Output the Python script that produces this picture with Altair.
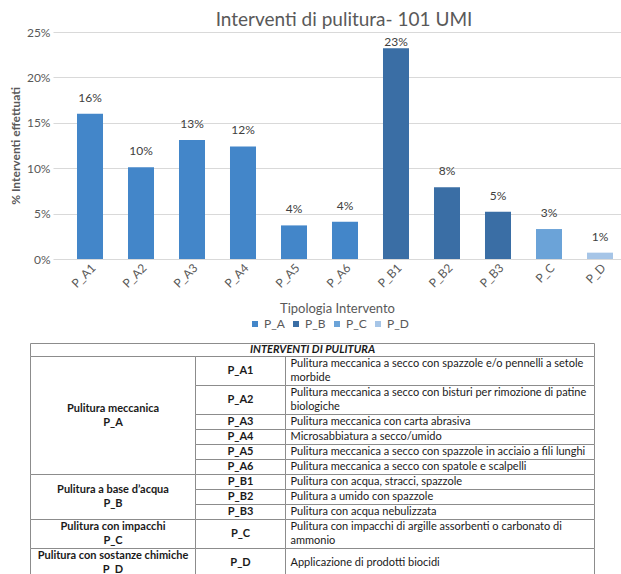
import altair as alt
import pandas as pd

# ---------------------------------------------------------------- bar data
codes = ["P_A1", "P_A2", "P_A3", "P_A4", "P_A5", "P_A6",
         "P_B1", "P_B2", "P_B3", "P_C", "P_D"]
code_groups = ["P_A", "P_A", "P_A", "P_A", "P_A", "P_A",
               "P_B", "P_B", "P_B", "P_C", "P_D"]
shares = [0.160, 0.101, 0.131, 0.124, 0.037, 0.041,
          0.232, 0.079, 0.052, 0.033, 0.007]
y_ticks = [0, 0.05, 0.10, 0.15, 0.20, 0.25]

group_keys = ["P_A", "P_B", "P_C", "P_D"]
group_names = ["Pulitura meccanica", "Pulitura a base d’acqua",
               "Pulitura con impacchi", "Pulitura con sostanze chimiche"]
group_colors = ["#4386c9", "#3a6ea5", "#6ba3d8", "#a6c5e7"]

# -------------------------------------------------------------- table data
table_title = "INTERVENTI DI PULITURA"
descriptions = [
    "Pulitura meccanica a secco con spazzole e/o pennelli a setole\nmorbide",
    "Pulitura meccanica a secco con bisturi per rimozione di patine\nbiologiche",
    "Pulitura meccanica con carta abrasiva",
    "Microsabbiatura a secco/umido",
    "Pulitura meccanica a secco con spazzole in acciaio a fili lunghi",
    "Pulitura meccanica a secco con spatole e scalpelli",
    "Pulitura con acqua, stracci, spazzole",
    "Pulitura a umido con spazzole",
    "Pulitura con acqua nebulizzata",
    "Pulitura con impacchi di argille assorbenti o carbonato di\nammonio",
    "Applicazione di prodotti biocidi",
]

# ------------------------------------------------------------------ layout
GRAY = "#595959"
FONT = "Lato"
PLOT_W, PLOT_H = 568, 227
PAD = {"left": 53, "top": 32, "right": 0, "bottom": 315}
Y_MAX = 0.25
LABEL_CAP = 0.2217                  # keeps value labels inside the plot area

COL_EDGES = [0, 165, 255, 564]      # table column borders
HEADER_H = 13
LINE_H = 14
TEXT_PAD = 5
TABLE_FONT = 11
TABLE_X0, TABLE_Y0 = 30 - PAD["left"] + 0.5, 343 - PAD["top"] + 0.5
TABLE_SPAN = 240


def n_lines(s):
    return s.count("\n") + 1


def block_y(center, s):
    # Vega puts the first line at y; shift so the whole block is centred
    return center - (n_lines(s) - 1) * LINE_H / 2


# rows grow with the number of text lines they hold
group_labels = {k: f"{n}\n{k}" for k, n in zip(group_keys, group_names)}
group_sizes = {k: code_groups.count(k) for k in group_keys}
row_top, row_bot = [], []
y = HEADER_H
for code, grp, desc in zip(codes, code_groups, descriptions):
    lines = n_lines(desc)
    if group_sizes[grp] == 1:
        lines = max(lines, n_lines(group_labels[grp]))
    h = lines * LINE_H + 1
    row_top.append(y)
    row_bot.append(y + h)
    y += h

cells, header_txt, group_txt, code_txt, desc_txt = [], [], [], [], []
cells.append(dict(x1=COL_EDGES[0], x2=COL_EDGES[3], y1=0, y2=HEADER_H))
header_txt.append(dict(tx=(COL_EDGES[0] + COL_EDGES[3]) / 2, ty=HEADER_H / 2,
                       label=table_title))
for k in group_keys:
    idx = [i for i, g in enumerate(code_groups) if g == k]
    top, bot = row_top[idx[0]], row_bot[idx[-1]]
    cells.append(dict(x1=COL_EDGES[0], x2=COL_EDGES[1], y1=top, y2=bot))
    group_txt.append(dict(tx=(COL_EDGES[0] + COL_EDGES[1]) / 2,
                          ty=block_y((top + bot) / 2, group_labels[k]),
                          label=group_labels[k]))
for i, code in enumerate(codes):
    top, bot = row_top[i], row_bot[i]
    mid = (top + bot) / 2
    cells.append(dict(x1=COL_EDGES[1], x2=COL_EDGES[2], y1=top, y2=bot))
    cells.append(dict(x1=COL_EDGES[2], x2=COL_EDGES[3], y1=top, y2=bot))
    code_txt.append(dict(tx=(COL_EDGES[1] + COL_EDGES[2]) / 2, ty=mid,
                         label=code))
    desc_txt.append(dict(tx=COL_EDGES[2] + TEXT_PAD,
                         ty=block_y(mid, descriptions[i]),
                         label=descriptions[i]))

tx_scale = alt.Scale(domain=[0, COL_EDGES[3]],
                     range=[TABLE_X0, TABLE_X0 + COL_EDGES[3]],
                     nice=False, zero=False)
ty_scale = alt.Scale(domain=[0, TABLE_SPAN],
                     range=[TABLE_Y0, TABLE_Y0 + TABLE_SPAN],
                     nice=False, zero=False)

table_cells = alt.Chart(pd.DataFrame(cells)).mark_rect(
    fill="white", stroke="#8c8c8c", strokeWidth=1
).encode(
    x=alt.X("x1:Q", scale=tx_scale, axis=None), x2="x2:Q",
    y=alt.Y("y1:Q", scale=ty_scale, axis=None), y2="y2:Q",
)


def table_text(rows, **style):
    return alt.Chart(pd.DataFrame(rows)).mark_text(
        font=FONT, fontSize=TABLE_FONT, color="#1a1a1a", baseline="middle",
        lineBreak="\n", lineHeight=LINE_H, **style
    ).encode(
        x=alt.X("tx:Q", scale=tx_scale, axis=None),
        y=alt.Y("ty:Q", scale=ty_scale, axis=None),
        text="label:N",
    )


table = alt.layer(
    table_cells,
    table_text(header_txt, align="center", fontWeight="bold", fontStyle="italic"),
    table_text(group_txt, align="center", fontWeight="bold"),
    table_text(code_txt, align="center", fontWeight="bold"),
    table_text(desc_txt, align="left"),
)

# --------------------------------------------------------------- bar chart
bars_df = pd.DataFrame({"code": codes, "group": code_groups, "share": shares})

x_enc = alt.X(
    "code:N", sort=codes, title="Tipologia Intervento",
    scale=alt.Scale(paddingInner=0.49, paddingOuter=0.3137, align=0.75),
    axis=alt.Axis(labelAngle=-45, labelFontSize=12, labelColor=GRAY,
                  labelPadding=3, ticks=False, domain=False,
                  titleFontSize=13, titleColor=GRAY,
                  titleFontWeight="normal", titleY=49,
                  titleBaseline="middle"),
)
y_scale = alt.Scale(domain=[0, Y_MAX], nice=False)

bars = alt.Chart(bars_df).mark_bar().encode(
    x=x_enc,
    y=alt.Y(
        "share:Q", title="% Interventi effettuati", scale=y_scale,
        axis=alt.Axis(values=y_ticks, format=".0%", labelFontSize=12,
                      labelColor=GRAY, labelPadding=3, ticks=False,
                      domain=False, gridColor="#d9d9d9",
                      titleFontSize=12, titleColor=GRAY,
                      titleFontWeight="bold", titleX=-38,
                      titleBaseline="middle"),
    ),
    color=alt.Color(
        "group:N",
        scale=alt.Scale(domain=group_keys, range=group_colors),
        legend=alt.Legend(title=None, orient="none", legendX=196, legendY=286,
                          direction="horizontal", symbolType="square",
                          symbolSize=36, symbolStrokeWidth=0,
                          labelFontSize=12, labelColor=GRAY, labelOffset=3,
                          columnPadding=5),
    ),
)

# value labels sit above each bar, held below the top of the plot
values = alt.Chart(bars_df).transform_calculate(
    label_pos=f"min(datum.share, {LABEL_CAP})"
).mark_text(dy=-16, fontSize=12, color="#404040", baseline="middle").encode(
    x=x_enc,
    y=alt.Y("label_pos:Q", title="% Interventi effettuati", scale=y_scale),
    text=alt.Text("share:Q", format=".0%"),
)

chart = alt.layer(
    alt.layer(bars, values), table
).resolve_scale(
    x="independent", y="independent"
).properties(
    width=PLOT_W, height=PLOT_H, padding=PAD,
    autosize=alt.AutoSizeParams(type="none"),
    title=alt.TitleParams("Interventi di pulitura- 101 UMI", fontSize=19,
                          font=FONT, color=GRAY, fontWeight="normal",
                          anchor="middle", frame="group", dx=7, dy=8,
                          offset=4),
).configure(
    font=FONT
).configure_view(
    strokeWidth=0
)

chart.save("out.html", embed_options={"renderer": "svg", "actions": False})
